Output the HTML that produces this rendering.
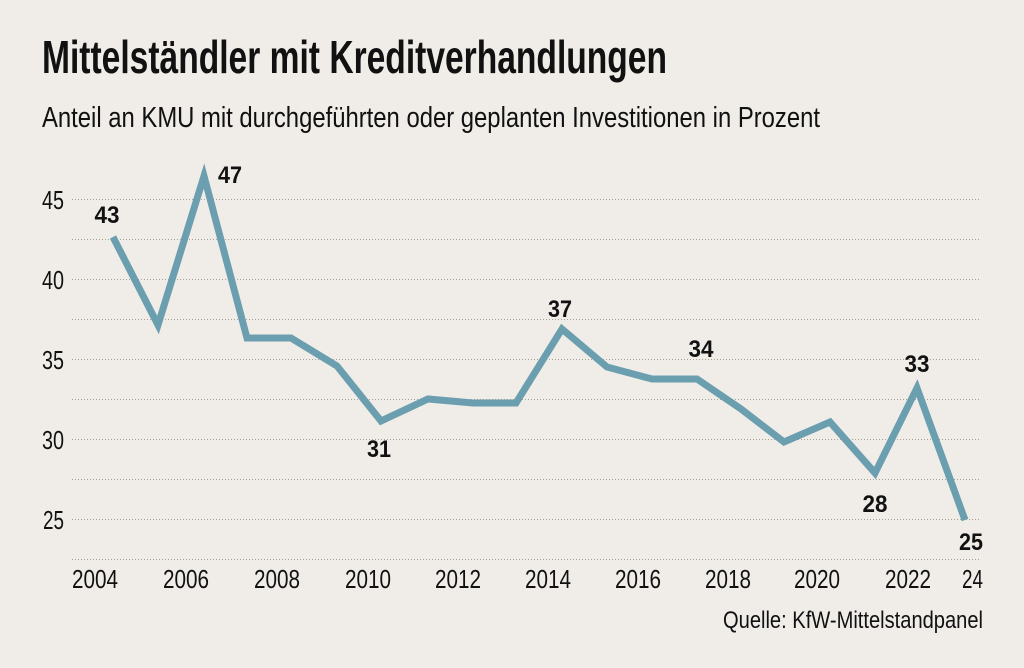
<!DOCTYPE html>
<html>
<head>
<meta charset="utf-8">
<style>
  html,body{margin:0;padding:0;background:#f0ede8;}
  svg{display:block;}
  text{font-family:"Liberation Sans",sans-serif;fill:#111;}
</style>
</head>
<body>
<svg width="1024" height="668" viewBox="0 0 1024 668" xmlns="http://www.w3.org/2000/svg">
  <rect x="0" y="0" width="1024" height="668" fill="#f0ede8"/>

  <text x="42" y="73" font-size="46" font-weight="bold" textLength="625" lengthAdjust="spacingAndGlyphs">Mittelständler mit Kreditverhandlungen</text>
  <text x="42" y="127" font-size="29" textLength="778" lengthAdjust="spacingAndGlyphs" fill="#1a1a1a">Anteil an KMU mit durchgeführten oder geplanten Investitionen in Prozent</text>

  <g stroke="#a8a296" stroke-width="1" stroke-dasharray="1 2">
    <line x1="72" y1="199.5" x2="981" y2="199.5"/>
    <line x1="72" y1="239.5" x2="981" y2="239.5"/>
    <line x1="72" y1="279.5" x2="981" y2="279.5"/>
    <line x1="72" y1="319.5" x2="981" y2="319.5"/>
    <line x1="72" y1="359.5" x2="981" y2="359.5"/>
    <line x1="72" y1="399.5" x2="981" y2="399.5"/>
    <line x1="72" y1="439.5" x2="981" y2="439.5"/>
    <line x1="72" y1="479.5" x2="981" y2="479.5"/>
    <line x1="72" y1="519.5" x2="981" y2="519.5"/>
    <line x1="72" y1="559.5" x2="981" y2="559.5"/>
  </g>

  <g font-size="26" text-anchor="end" fill="#1a1a1a">
    <text x="64" y="209" textLength="22" lengthAdjust="spacingAndGlyphs">45</text>
    <text x="64" y="289" textLength="22" lengthAdjust="spacingAndGlyphs">40</text>
    <text x="64" y="369" textLength="22" lengthAdjust="spacingAndGlyphs">35</text>
    <text x="64" y="449" textLength="22" lengthAdjust="spacingAndGlyphs">30</text>
    <text x="64" y="529" textLength="21" lengthAdjust="spacingAndGlyphs">25</text>
  </g>

  <g font-size="26" fill="#1a1a1a">
    <text x="72" y="588" textLength="46" lengthAdjust="spacingAndGlyphs">2004</text>
    <text x="163" y="588" textLength="46" lengthAdjust="spacingAndGlyphs">2006</text>
    <text x="254" y="588" textLength="46" lengthAdjust="spacingAndGlyphs">2008</text>
    <text x="345" y="588" textLength="46" lengthAdjust="spacingAndGlyphs">2010</text>
    <text x="435" y="588" textLength="46" lengthAdjust="spacingAndGlyphs">2012</text>
    <text x="525" y="588" textLength="46" lengthAdjust="spacingAndGlyphs">2014</text>
    <text x="615" y="588" textLength="46" lengthAdjust="spacingAndGlyphs">2016</text>
    <text x="705" y="588" textLength="46" lengthAdjust="spacingAndGlyphs">2018</text>
    <text x="794" y="588" textLength="46" lengthAdjust="spacingAndGlyphs">2020</text>
    <text x="885" y="588" textLength="46" lengthAdjust="spacingAndGlyphs">2022</text>
    <text x="962" y="588" textLength="21" lengthAdjust="spacingAndGlyphs">24</text>
  </g>

  <polyline fill="none" stroke="#6b9fb0" stroke-width="7" stroke-linejoin="miter" stroke-miterlimit="10" stroke-linecap="butt"
    points="113,237 158,325 204,176 247,338 291,338 337,366 381,421 428,399 473,403 516,403 562,329 607,367 652,379 697,379 741,409 784,442 830,422 875,473 917,388 965,520"/>

  <g font-size="24" font-weight="bold" text-anchor="middle" fill="#111">
    <text x="107" y="223" textLength="25" lengthAdjust="spacingAndGlyphs">43</text>
    <text x="230" y="183" textLength="24" lengthAdjust="spacingAndGlyphs">47</text>
    <text x="379" y="457" textLength="24" lengthAdjust="spacingAndGlyphs">31</text>
    <text x="560" y="317" textLength="24" lengthAdjust="spacingAndGlyphs">37</text>
    <text x="701" y="357" textLength="25" lengthAdjust="spacingAndGlyphs">34</text>
    <text x="917" y="372" textLength="25" lengthAdjust="spacingAndGlyphs">33</text>
    <text x="875" y="512" textLength="25" lengthAdjust="spacingAndGlyphs">28</text>
    <text x="971" y="550" textLength="24" lengthAdjust="spacingAndGlyphs">25</text>
  </g>

  <text x="983" y="628" font-size="24" text-anchor="end" textLength="260" lengthAdjust="spacingAndGlyphs" fill="#1a1a1a">Quelle: KfW-Mittelstandpanel</text>
</svg>
</body>
</html>
